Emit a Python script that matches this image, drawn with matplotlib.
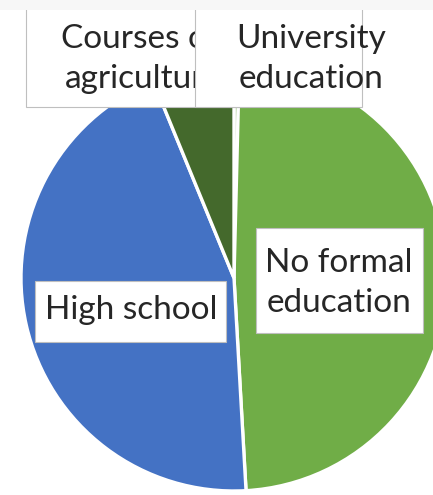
import matplotlib
matplotlib.use("Agg")
import matplotlib.pyplot as plt
from matplotlib.patches import Rectangle

# Share of respondents by education level (%)
categories = ["University education", "No formal education", "High school", "Courses on agriculture"]
shares = [0.4, 48.7, 44.7, 6.2]
colors = ["#70AD47", "#70AD47", "#4472C4", "#44692C"]
label_texts = ["University\neducation", "No formal\neducation", "High school", "Courses on\nagriculture"]

W, H = 433, 495
fig = plt.figure(figsize=(W / 100, H / 100), dpi=100)
ax = fig.add_axes([0, 0, 1, 1])

# pie, cropped on the right like the source
ax.pie(shares, colors=colors, startangle=90, counterclock=False,
       center=(234, H - 278), radius=213,
       wedgeprops=dict(edgecolor="white", linewidth=2.4), frame=True)
ax.set_xlim(0, W)
ax.set_ylim(0, H)
ax.axis("off")

txt_kw = dict(family=["Lato", "DejaVu Sans"], fontsize=24, color="#262626",
              ha="center", va="center", linespacing=1.38)

# label boxes: (x0, y0 top, x1, y1 bottom) in pixels, text centre
boxes = {
    "Courses on agriculture": ((26, 0, 250, 107), (143, 59), 2),
    "University education": ((195, 0, 362, 107), (311, 59), 4),
    "No formal education": ((256, 228, 423, 333), (339, 283), 4),
    "High school": ((35, 281, 226, 342), (131, 310), 4),
}

for cat, txt in zip(categories, label_texts):
    (x0, y0, x1, y1), (tx, ty), z = boxes[cat]
    ax.add_patch(Rectangle((x0, H - y1), x1 - x0, y1 - y0, facecolor="white",
                           edgecolor="#bfbfbf", linewidth=0.8, zorder=z))
    ax.text(tx, H - ty, txt, zorder=z + 0.5, **txt_kw)

# faint strip at the top edge of the crop
ax.add_patch(Rectangle((0, H - 10), W, 10, facecolor="#f7f7f7", edgecolor="none", zorder=10))

fig.savefig("out.png", dpi=100)
